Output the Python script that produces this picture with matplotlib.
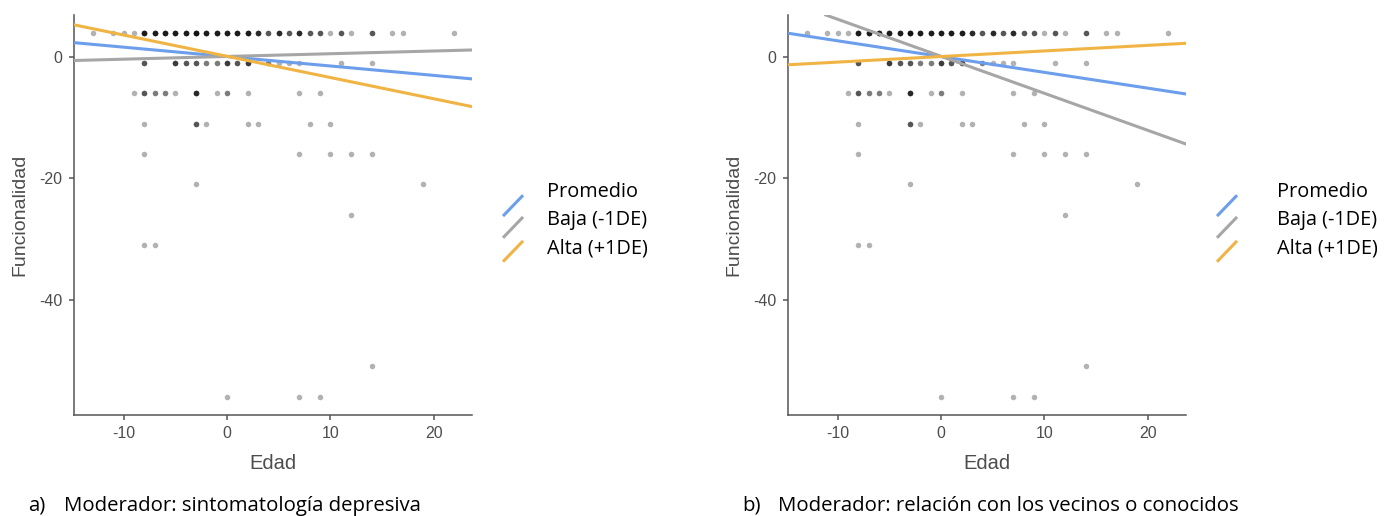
import numpy as np
import matplotlib
matplotlib.use("Agg")
import matplotlib.pyplot as plt
from matplotlib.legend_handler import HandlerBase
from matplotlib.lines import Line2D

plt.rcParams["axes.unicode_minus"] = False

# observed points (age centred, functionality centred) and how many overlap
edad = [-13, -11, -10, -9, -8, -7, -6, -5, -4, -3, -2, -1, 0, 1, 2, 3, 4, 5, 6, 7, 8, 9, 10, 11, 12, 14, 16, 17, 22,
        -8, -5, -4, -3, -2, -1, 0, 1, 2, 4, 5, 6, 7, 11, 14,
        -9, -8, -7, -6, -5, -3, -1, 0, 2, 7, 9,
        -8, -3, -2, 2, 3, 8, 10,
        -8, 7, 10, 12, 14,
        -3, 19,
        12,
        -8, -7,
        14,
        0, 7, 9]
funcionalidad = [4] * 29 + [-1] * 15 + [-6] * 11 + [-11] * 7 + [-16] * 5 + [-21] * 2 + [-26] + [-31] * 2 + [-51] + [-56] * 3
n_obs = [1, 1, 1, 1, 6, 6, 6, 6, 6, 7, 6, 6, 6, 6, 6, 5, 3, 5, 3, 5, 3, 3, 1, 3, 1, 3, 1, 1, 1,
         3, 4, 3, 3, 2, 2, 4, 3, 4, 2, 1, 1, 1, 1, 1,
         1, 3, 2, 2, 1, 5, 1, 2, 1, 1, 1,
         1, 3, 1, 1, 1, 1, 1,
         1, 1, 1, 1, 1,
         1, 1,
         1,
         1, 1,
         1,
         1, 1, 1]

etiquetas = ["Promedio", "Baja (-1DE)", "Alta (+1DE)"]
colores = ["#6d9eeb", "#a6a6a6", "#f0b444"]

# simple slopes: intercept and slope for each moderator level
intercepto_a = [0.05, 0.07, 0.1]
pendiente_a = [-0.155, 0.045, -0.35]
intercepto_b = [0.05, 0.1, 0.06]
pendiente_b = [-0.26, -0.61, 0.092]

captions = [("a)", "Moderador: sintomatología depresiva"),
            ("b)", "Moderador: relación con los vecinos o conocidos")]

AXFONT = ["Liberation Sans", "DejaVu Sans"]
SANS = ["Open Sans", "DejaVu Sans"]
AXCOL = "#555555"


class DiagonalHandler(HandlerBase):
    # ggplot-style abline key: a diagonal stroke, dropped a bit below its label
    def __init__(self, drop=0.0):
        super().__init__()
        self.drop = drop

    def create_artists(self, legend, orig_handle, xdescent, ydescent,
                       width, height, fontsize, trans):
        yc = -ydescent + height / 2 - self.drop
        ln = Line2D([-xdescent, -xdescent + width], [yc - 7.5, yc + 7.5],
                    color=orig_handle.get_color(), lw=orig_handle.get_linewidth(),
                    solid_capstyle="butt")
        ln.set_transform(trans)
        return [ln]


fig = plt.figure(figsize=(13.84, 5.16), dpi=100)
x_pts = np.repeat(edad, n_obs)
y_pts = np.repeat(funcionalidad, n_obs)

lefts = [74 / 1384, 788 / 1384]
textpads = [1.2, 2.0]
drops = [11.2, 6.5, 3.4]
for i, (icpt, slp) in enumerate([(intercepto_a, pendiente_a), (intercepto_b, pendiente_b)]):
    ax = fig.add_axes([lefts[i], 101 / 516, 398 / 1384, 400 / 516])
    ax.scatter(x_pts, y_pts, s=16, color="black", alpha=0.3, linewidths=0, zorder=2)
    handles = []
    for a, b, c, lab in zip(icpt, slp, colores, etiquetas):
        h = ax.axline((0, a), slope=b, color=c, lw=2.2, zorder=3, label=lab)
        handles.append(h)
    ax.set_xlim(-14.8, 23.7)
    ax.set_ylim(-59, 6.9)
    ax.set_xticks([-10, 0, 10, 20])
    ax.set_yticks([0, -20, -40])
    for s in ["top", "right"]:
        ax.spines[s].set_visible(False)
    for s in ["left", "bottom"]:
        ax.spines[s].set_color(AXCOL)
        ax.spines[s].set_linewidth(1.1)
    ax.tick_params(colors=AXCOL, length=3.6, width=1.1, labelsize=11.5, pad=4.5)
    for t in ax.get_xticklabels() + ax.get_yticklabels():
        t.set_family(AXFONT)
        t.set_color("#4d4d4d")
    ax.set_xlabel("Edad", family=AXFONT, fontsize=14.5, color="#4d4d4d", labelpad=9)
    ax.set_ylabel("Funcionalidad", family=AXFONT, fontsize=14, color="#4d4d4d", labelpad=8)

    hmap = {h: DiagonalHandler(d) for h, d in zip(handles, drops)}
    ax.legend(handles=handles, handler_map=hmap,
              loc="center left", bbox_to_anchor=(1.033, 0.488), frameon=False,
              prop={"family": SANS, "size": 14.3}, handlelength=1.01,
              handleheight=1.0, labelspacing=0.38, handletextpad=textpads[i])

    fig.text(lefts[i] - 46 / 1384, 5 / 516, captions[i][0], family=SANS, fontsize=14.7)
    fig.text(lefts[i] - 10 / 1384, 5 / 516, captions[i][1], family=SANS, fontsize=14.7)

fig.savefig("out.png", dpi=100)
